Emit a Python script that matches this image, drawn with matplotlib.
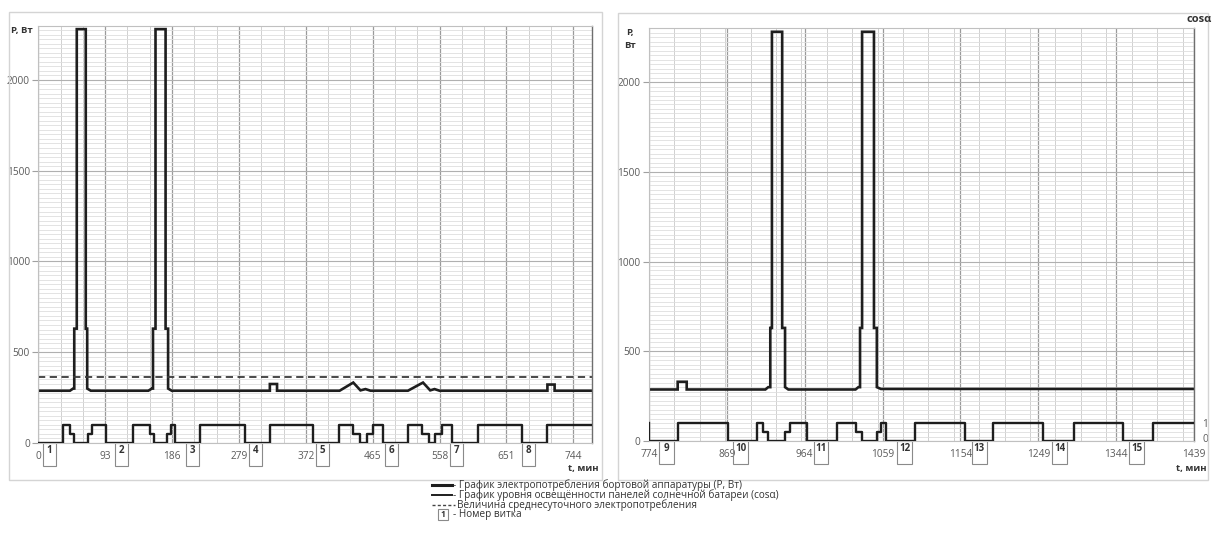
import numpy as np
import matplotlib
matplotlib.use("Agg")
import matplotlib.pyplot as plt
from matplotlib.patches import Rectangle
from matplotlib.lines import Line2D
from matplotlib.ticker import FixedLocator
import matplotlib.transforms as mtrans

plt.rcParams['font.family'] = ['Open Sans', 'DejaVu Sans']

# ---------------- data ----------------
# power consumption, left panel (t, min ; P, W)
p1_t = [0, 44, 48.5, 50, 50, 53.5, 53.5, 66, 66, 68, 68, 73,
        153, 158, 159.5, 159.5, 163, 163, 177, 177, 180.5, 180.5, 185.5,
        322, 322, 332, 332,
        419, 438, 448, 455, 462,
        514, 535, 545, 551, 558,
        708, 708, 718, 718, 774]
p1_v = [288, 288, 300, 300, 630, 630, 2280, 2280, 630, 630, 300, 288,
        288, 300, 300, 630, 630, 2280, 2280, 630, 630, 300, 288,
        288, 325, 325, 288,
        288, 333, 290, 297, 288,
        288, 333, 290, 297, 288,
        288, 322, 322, 288, 288]
# power consumption, right panel
p2_t = [774, 809, 809, 820, 820,
        916, 919.5, 922, 922, 924, 924, 936.5, 936.5, 940, 940, 944,
        1026, 1029.5, 1031.5, 1031.5, 1034, 1034, 1048.5, 1048.5, 1052, 1052, 1057, 1439]
p2_v = [287, 287, 330, 330, 287,
        287, 300, 300, 630, 630, 2280, 2280, 630, 630, 300, 287,
        287, 300, 300, 630, 630, 2280, 2280, 630, 630, 300, 290, 290]

# illumination level cos(alpha) (step changes)
c1_t = [0, 35, 44, 49, 69.5, 74.5, 94, 131.5, 155, 161, 179.5, 185, 190, 225.5,
        287, 322, 382, 418, 437, 448, 457, 466, 479, 514, 534, 544, 552, 561,
        575, 611, 672, 708, 774]
c1_v = [0, 1, 0.5, 0, 0.5, 1, 0, 1, 0.5, 0, 0.5, 1, 0, 1,
        0, 1, 0, 1, 0.5, 0, 0.5, 1, 0, 1, 0.5, 0, 0.5, 1,
        0, 1, 0, 1, 1]
c2_t = [774, 774.6, 809, 870, 906, 913, 919, 940, 946, 967, 1003, 1027, 1034,
        1052, 1057, 1063, 1099, 1159, 1194, 1255, 1292, 1352, 1389, 1439]
c2_v = [1, 0, 1, 0, 1, 0.5, 0, 0.5, 1, 0, 1, 0.5, 0,
        0.5, 1, 0, 1, 0, 1, 0, 1, 0, 1, 1]

avg_power = 365

# orbit numbers and start of their label boxes (min)
orb1_n = [1, 2, 3, 4, 5, 6, 7, 8]
orb1_t = [6.5, 106.5, 205.5, 293, 386, 482, 573, 673]
orb2_n = [9, 10, 11, 12, 13, 14, 15]
orb2_t = [786, 877, 975, 1077, 1168, 1266, 1360]

x1_ticks = [0, 93, 186, 279, 372, 465, 558, 651, 744]
x2_ticks = [774, 869, 964, 1059, 1154, 1249, 1344, 1439]
y_ticks = [0, 500, 1000, 1500, 2000]

# ---------------- figure ----------------
W, H = 1212, 536
fig = plt.figure(figsize=(W / 100, H / 100), dpi=100)
fig.patch.set_facecolor('white')

def fbox(x0, y0, x1, y1):
    return [x0 / W, 1 - y1 / H, (x1 - x0) / W, (y1 - y0) / H]

# outer chart-area borders
for (x0, y0, x1, y1) in [(9, 12, 602, 480), (618, 13, 1208, 480)]:
    fig.add_artist(Rectangle((x0 / W, 1 - y1 / H), (x1 - x0) / W, (y1 - y0) / H,
                             transform=fig.transFigure, fill=False,
                             ec='#d4d4d4', lw=1.0))

ax1 = fig.add_axes(fbox(38.3, 25.5, 592, 443))
ax2 = fig.add_axes(fbox(649, 28.2, 1194, 441))

LINE = '#1e1e1e'
TXT = '#5a5a5a'

def style(ax, xlim, xt, minor_x):
    ax.set_xlim(*xlim)
    ax.set_ylim(0, 2300)
    ax.set_xticks(xt)
    ax.set_xticklabels([str(v) for v in xt], fontsize=7.3, color=TXT)
    ax.xaxis.set_minor_locator(FixedLocator(minor_x))
    ax.yaxis.set_minor_locator(FixedLocator(np.arange(0, 2301, 25)))
    ax.set_yticks(y_ticks)
    ax.set_yticklabels([str(v) for v in y_ticks], fontsize=7.3, color=TXT)
    ax.tick_params(axis='x', which='both', length=0, pad=6)
    ax.tick_params(axis='y', which='major', length=4, color='#a0a0a0', pad=2)
    ax.tick_params(axis='y', which='minor', length=0)
    ax.grid(which='minor', axis='y', color='#dedede', lw=0.6)
    ax.grid(which='major', axis='y', color='#b0b0b0', lw=0.8)
    ax.grid(which='minor', axis='x', color='#d0d0d0', lw=0.7)
    ax.grid(which='major', axis='x', color='#9a9a9a', lw=0.9)
    ax.set_axisbelow(True)
    for s in ['left', 'top', 'bottom']:
        ax.spines[s].set_color('#c0c0c0')
        ax.spines[s].set_linewidth(0.8)
    ax.spines['right'].set_color('#6e6e6e')
    ax.spines['right'].set_linewidth(1.0)

style(ax1, (0, 770), x1_ticks, np.arange(0, 771, 31))
style(ax2, (774, 1439), x2_ticks, np.arange(774, 1440, 31))

# power lines
ax1.plot(p1_t, p1_v, color=LINE, lw=1.9, solid_joinstyle='miter')
ax2.plot(p2_t, p2_v, color=LINE, lw=1.9, solid_joinstyle='miter')
# average daily consumption (left only)
ax1.plot([0, 770], [avg_power, avg_power], color='#3a3a3a', lw=1.3,
         ls=(0, (4, 2.5)))

# cos(alpha) on secondary axes scaled so that 1 -> 100 W
for ax, ct, cv, show in [(ax1, c1_t, c1_v, False), (ax2, c2_t, c2_v, True)]:
    tw = ax.twinx()
    tw.set_ylim(0, 23)
    tw.plot(ct, cv, color=LINE, lw=1.7, drawstyle='steps-post')
    tw.set_xlim(ax.get_xlim())
    for s in tw.spines.values():
        s.set_visible(False)
    if show:
        tw.set_yticks([0.15, 1])
        tw.set_yticklabels(['0', '1'], fontsize=7.3, color=TXT)
        tw.tick_params(axis='y', length=0, pad=6)
    else:
        tw.set_yticks([])

# orbit number boxes
def orbit_boxes(ax, ts, ns, width):
    tr = mtrans.blended_transform_factory(ax.transData, ax.transAxes)
    ah = ax.get_position().height * H
    bh = 23 / ah
    for t, n in zip(ts, ns):
        ax.add_patch(Rectangle((t, -bh), width, bh, transform=tr, fill=False,
                               ec='#8a8a8a', lw=0.8, clip_on=False))
        ax.text(t + width / 2, -7.5 / ah, str(n), transform=tr, ha='center',
                va='center', fontsize=7, fontweight='bold', color='#333333')

orbit_boxes(ax1, orb1_t, orb1_n, 18)
orbit_boxes(ax2, orb2_t, orb2_n, 18)

# axis titles
fig.text(22 / W, 1 - 30 / H, 'P, Вт', fontsize=6.8, fontweight='bold',
         color='#333333', ha='center', va='center')
fig.text(630 / W, 1 - 33 / H, 'P,', fontsize=6.8, fontweight='bold',
         color='#333333', ha='center', va='center')
fig.text(630 / W, 1 - 46 / H, 'Вт', fontsize=6.8, fontweight='bold',
         color='#333333', ha='center', va='center')
fig.text(1199 / W, 1 - 20 / H, 'cosα', fontsize=8, fontweight='bold',
         color='#333333', ha='center', va='center')
fig.text(583 / W, 1 - 468 / H, 't, мин', fontsize=6.8, fontweight='bold',
         color='#333333', ha='center', va='center')
fig.text(1191 / W, 1 - 468 / H, 't, мин', fontsize=6.8, fontweight='bold',
         color='#333333', ha='center', va='center')

# legend (bottom)
def fl(x0, x1, y, **kw):
    fig.add_artist(Line2D([x0 / W, x1 / W], [1 - y / H, 1 - y / H],
                          transform=fig.transFigure, **kw))

fs = 7.2
fl(432, 452, 485, color=LINE, lw=2.2)
fig.text(453 / W, 1 - 485 / H, '- График электропотребления бортовой аппаратуры (Р, Вт)',
         fontsize=fs, color='#333333', va='center')
fl(432, 452, 495, color=LINE, lw=1.4)
fig.text(453 / W, 1 - 495 / H, '- График уровня освещённости панелей солнечной батареи (cosα)',
         fontsize=fs, color='#333333', va='center')
fl(432, 455, 505, color='#444444', lw=1.0, ls=(0, (2.2, 1.6)))
fig.text(457 / W, 1 - 505 / H, 'Величина среднесуточного электропотребления',
         fontsize=fs, color='#333333', va='center')
fig.add_artist(Rectangle((438 / W, 1 - 520 / H), 10 / W, 11 / H,
                         transform=fig.transFigure, fill=False, ec='#8a8a8a', lw=0.8))
fig.text(443 / W, 1 - 514.5 / H, '1', fontsize=6, fontweight='bold',
         color='#333333', ha='center', va='center')
fig.text(453 / W, 1 - 515 / H, '- Номер витка', fontsize=fs, color='#333333',
         va='center')

fig.savefig('out.png', dpi=100, facecolor='white')
